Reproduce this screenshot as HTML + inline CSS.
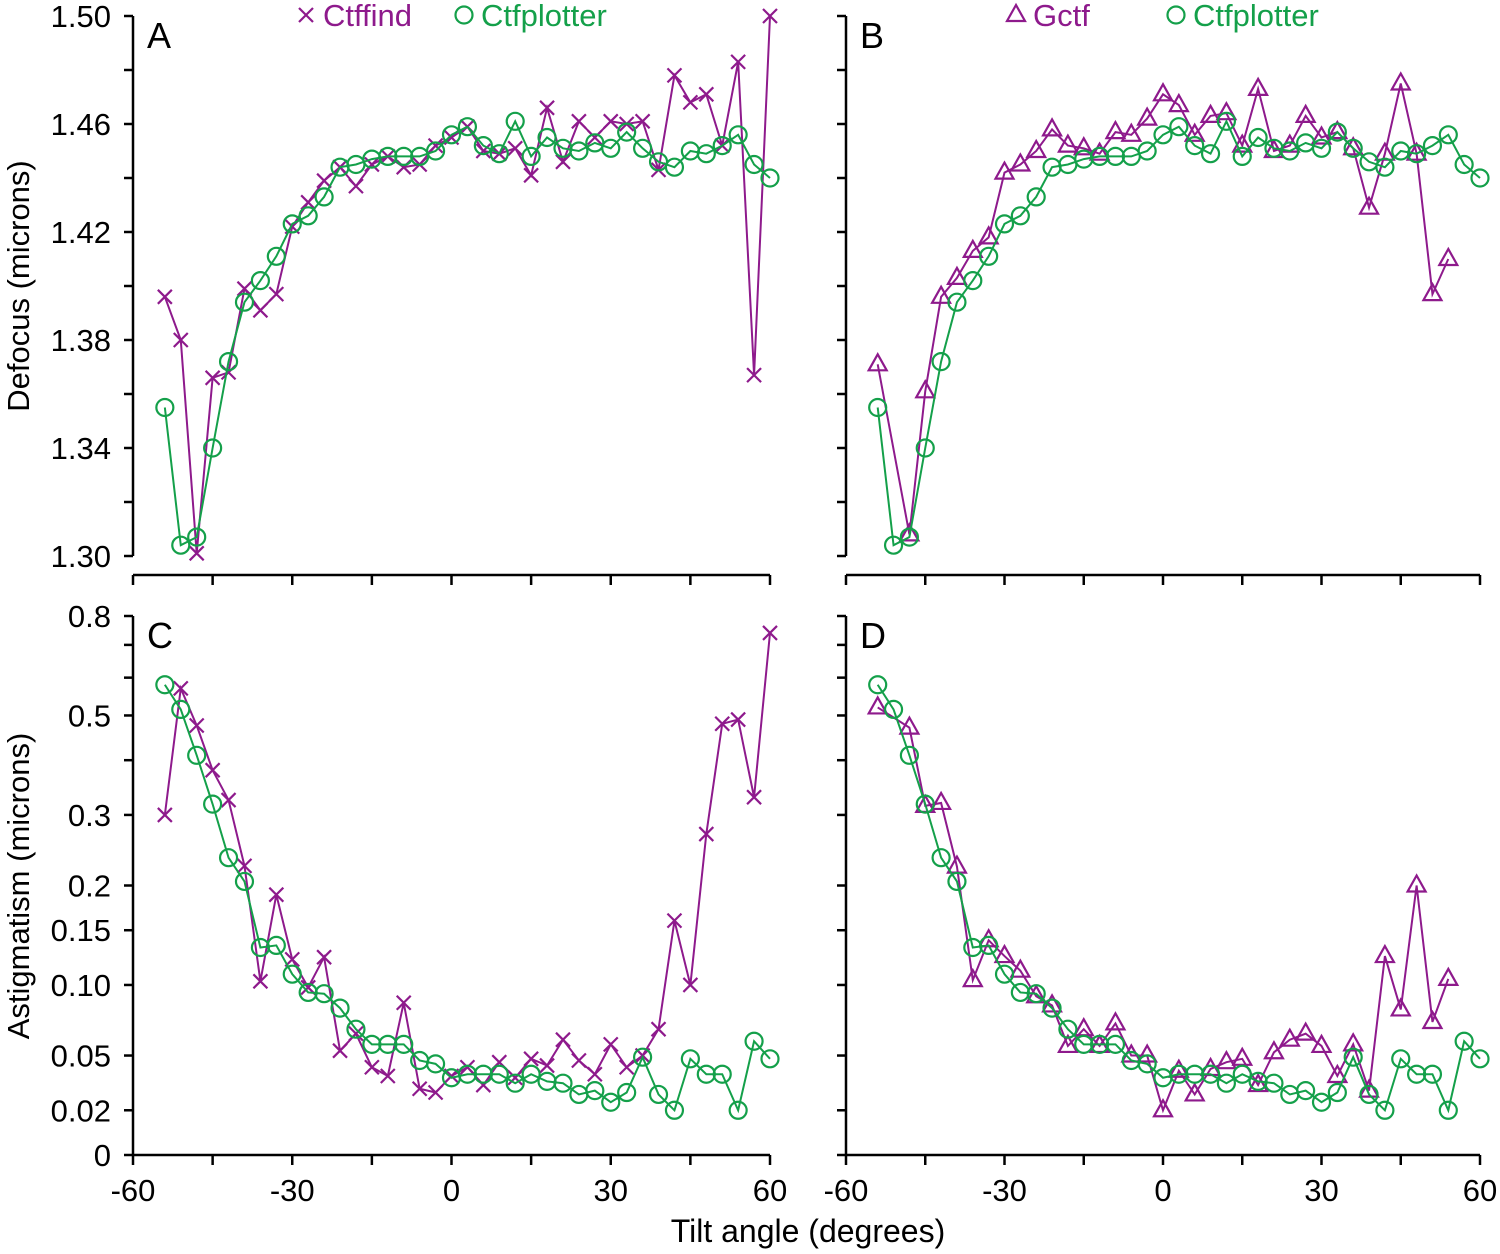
<!DOCTYPE html>
<html><head><meta charset="utf-8"><style>
html,body{margin:0;padding:0;background:#fff;}
svg{display:block;font-family:"Liberation Sans",sans-serif;}
</style></head><body>
<svg id="chart" width="1500" height="1254" viewBox="0 0 1500 1254" xmlns="http://www.w3.org/2000/svg"></svg>
<script>
const angles = [-54,-51,-48,-45,-42,-39,-36,-33,-30,-27,-24,-21,-18,-15,-12,-9,-6,-3,0,3,6,9,12,15,18,21,24,27,30,33,36,39,42,45,48,51,54,57,60];
const gctfAngles = [-54,-48,-45,-42,-39,-36,-33,-30,-27,-24,-21,-18,-15,-12,-9,-6,-3,0,3,6,9,12,15,18,21,24,27,30,33,36,39,42,45,48,51,54];
const ctffindDefocus = [1.396,1.380,1.301,1.366,1.368,1.399,1.391,1.397,1.422,1.431,1.439,1.444,1.437,1.445,1.448,1.444,1.445,1.452,1.455,1.459,1.450,1.449,1.451,1.441,1.466,1.446,1.461,1.455,1.461,1.460,1.461,1.443,1.478,1.468,1.471,1.452,1.483,1.367,1.500];
const ctfplotterDefocus = [1.355,1.304,1.307,1.340,1.372,1.394,1.402,1.411,1.423,1.426,1.433,1.444,1.445,1.447,1.448,1.448,1.448,1.450,1.456,1.459,1.452,1.449,1.461,1.448,1.455,1.451,1.450,1.453,1.451,1.457,1.451,1.446,1.444,1.450,1.449,1.452,1.456,1.445,1.440];
const gctfDefocus = [1.371,1.308,1.361,1.396,1.403,1.413,1.418,1.442,1.445,1.450,1.458,1.452,1.451,1.449,1.457,1.456,1.462,1.471,1.467,1.456,1.463,1.464,1.452,1.473,1.450,1.452,1.463,1.455,1.457,1.451,1.429,1.449,1.475,1.449,1.397,1.410];
const ctffindAstig = [0.30,0.57,0.476,0.38,0.325,0.225,0.103,0.189,0.122,0.098,0.124,0.053,0.064,0.043,0.038,0.086,0.031,0.029,0.038,0.043,0.033,0.046,0.037,0.048,0.044,0.060,0.047,0.039,0.057,0.043,0.050,0.067,0.16,0.10,0.27,0.48,0.49,0.33,0.74];
const ctfplotterAstig = [0.58,0.515,0.41,0.318,0.236,0.205,0.133,0.135,0.109,0.094,0.093,0.082,0.067,0.057,0.057,0.057,0.047,0.045,0.037,0.039,0.039,0.039,0.034,0.039,0.035,0.034,0.028,0.030,0.024,0.029,0.049,0.028,0.020,0.048,0.039,0.039,0.020,0.059,0.048];
const gctfAstig = [0.52,0.471,0.315,0.32,0.224,0.104,0.14,0.125,0.112,0.091,0.084,0.056,0.067,0.056,0.071,0.05,0.05,0.02,0.041,0.028,0.042,0.046,0.048,0.033,0.052,0.06,0.064,0.056,0.038,0.057,0.03,0.125,0.081,0.2,0.072,0.105];
const xTicks = [-60,-30,0,30,60];
const defocusTicks = ["1.30","1.34","1.38","1.42","1.46","1.50"];
const astigTicks = ["0","0.02","0.05","0.10","0.15","0.2","0.3","0.5","0.8"];

const PURPLE = "#8e1a8c", GREEN = "#14a04a";
const NS = "http://www.w3.org/2000/svg";
const svg = document.getElementById("chart");
function mk(tag, attrs, parent){ const e=document.createElementNS(NS,tag); for(const k in attrs) e.setAttribute(k,attrs[k]); (parent||svg).appendChild(e); return e; }

const panels = {
  A:{x0:133,x1:770,top:16,bot:556,axisY:575,type:"def",labels:true,xlabels:false},
  B:{x0:846,x1:1480,top:16,bot:556,axisY:575,type:"def",labels:false,xlabels:false},
  C:{x0:133,x1:770,top:616,bot:1155,axisY:1155,type:"ast",labels:true,xlabels:true},
  D:{x0:846,x1:1480,top:616,bot:1155,axisY:1155,type:"ast",labels:false,xlabels:true}
};
function xs(p,d){ return p.x0 + (d+60)/120*(p.x1-p.x0); }
function ys(p,v){
  if(p.type==="def") return p.bot - (v-1.30)/0.20*(p.bot-p.top);
  const t = Math.log10(0.9) - Math.log10(v+0.1);
  return p.top + t/(Math.log10(0.9)-Math.log10(0.1))*(p.bot-p.top);
}

function drawAxes(key){
  const p = panels[key];
  const g = mk("g",{});
  
  
  mk("line",{x1:p.x0,y1:p.top,x2:p.x0,y2:p.bot,stroke:"#000","stroke-width":2.5},g);
  mk("line",{x1:p.x0,y1:p.axisY,x2:p.x1,y2:p.axisY,stroke:"#000","stroke-width":2.5},g);
  for(let d=-60; d<=60; d+=15){
    mk("line",{x1:xs(p,d),y1:p.axisY,x2:xs(p,d),y2:p.axisY+10,stroke:"#000","stroke-width":2.5},g);
  }
  if(p.xlabels) xTicks.forEach(d=>{
    const t = mk("text",{x:xs(p,d),y:p.axisY+46,"font-size":31,"text-anchor":"middle",fill:"#000"},g);
    t.textContent = d;
    
    
  });
  if(p.type==="def"){
    for(let v=1.30; v<=1.5001; v+=0.02){
      mk("line",{x1:p.x0-9,y1:ys(p,v),x2:p.x0,y2:ys(p,v),stroke:"#000","stroke-width":2.5},g);
    }
    if(p.labels) defocusTicks.forEach(s=>{
      const t = mk("text",{x:p.x0-22,y:ys(p,parseFloat(s))+11,"font-size":31,"text-anchor":"end",fill:"#000"},g);
      t.textContent = s;
      
      
    });
  } else {
    [0,0.02,0.05,0.1,0.15,0.2,0.3,0.4,0.5,0.6,0.7,0.8].forEach(v=>{
      mk("line",{x1:p.x0-9,y1:ys(p,v),x2:p.x0,y2:ys(p,v),stroke:"#000","stroke-width":2.5},g);
    });
    if(p.labels) astigTicks.forEach(s=>{
      const t = mk("text",{x:p.x0-22,y:ys(p,parseFloat(s))+11,"font-size":31,"text-anchor":"end",fill:"#000"},g);
      t.textContent = s;
      
      
    });
  }
  const L = mk("text",{x:p.x0+14,y:p.top+32,"font-size":36,fill:"#000"},g);
  L.textContent = key;
  
  
}

function marker(g,type,x,y,color){
  if(type==="circle") return mk("circle",{cx:x,cy:y,r:8.5,fill:"none",stroke:color,"stroke-width":2.2},g);
  if(type==="tri") return mk("polygon",{points:`${x},${y-10} ${x-9},${y+6} ${x+9},${y+6}`,fill:"none",stroke:color,"stroke-width":2.2},g);
  const h=7;
  return mk("path",{d:`M${x-h},${y-h}L${x+h},${y+h}M${x-h},${y+h}L${x+h},${y-h}`,stroke:color,"stroke-width":2.2,fill:"none"},g);
}
function drawSeries(key,xsArr,vals,color,type,name){
  const p = panels[key];
  const g = mk("g",{});
  
  
  const pts = vals.map((v,i)=>[xs(p,xsArr[i]),ys(p,v)]);
  const line = mk("polyline",{points:pts.map(q=>q.join(",")).join(" "),fill:"none",stroke:color,"stroke-width":2},g);
  
  
  pts.forEach(q=>{
    const m = marker(g,type,q[0],q[1],color);
    
    
  });
}
function legend(x,y,type,color,label){
  const g = mk("g",{});
  
  
  marker(g,type,x,y,color);
  const t = mk("text",{x:x+17,y:y+11,"font-size":31,fill:color},g);
  t.textContent = label;
}

["A","B","C","D"].forEach(drawAxes);
drawSeries("A",angles,ctffindDefocus,PURPLE,"x","ctffind-defocus-series");
drawSeries("A",angles,ctfplotterDefocus,GREEN,"circle","ctfplotter-defocus-series-a");
drawSeries("B",gctfAngles,gctfDefocus,PURPLE,"tri","gctf-defocus-series");
drawSeries("B",angles,ctfplotterDefocus,GREEN,"circle","ctfplotter-defocus-series-b");
drawSeries("C",angles,ctffindAstig,PURPLE,"x","ctffind-astigmatism-series");
drawSeries("C",angles,ctfplotterAstig,GREEN,"circle","ctfplotter-astigmatism-series-c");
drawSeries("D",gctfAngles,gctfAstig,PURPLE,"tri","gctf-astigmatism-series");
drawSeries("D",angles,ctfplotterAstig,GREEN,"circle","ctfplotter-astigmatism-series-d");
legend(306,15,"x",PURPLE,"Ctffind");
legend(464,15,"circle",GREEN,"Ctfplotter");
legend(1016,15,"tri",PURPLE,"Gctf");
legend(1176,15,"circle",GREEN,"Ctfplotter");

const xt = mk("text",{x:808,y:1242,"font-size":32,"text-anchor":"middle",fill:"#000"});
xt.textContent = "Tilt angle (degrees)";


const y1 = mk("text",{x:0,y:0,"font-size":31,"text-anchor":"middle",fill:"#000",transform:"translate(29,286) rotate(-90)"});
y1.textContent = "Defocus (microns)";


const y2 = mk("text",{x:0,y:0,"font-size":31,"text-anchor":"middle",fill:"#000",transform:"translate(29,886) rotate(-90)"});
y2.textContent = "Astigmatism (microns)";


</script>
</body></html>
